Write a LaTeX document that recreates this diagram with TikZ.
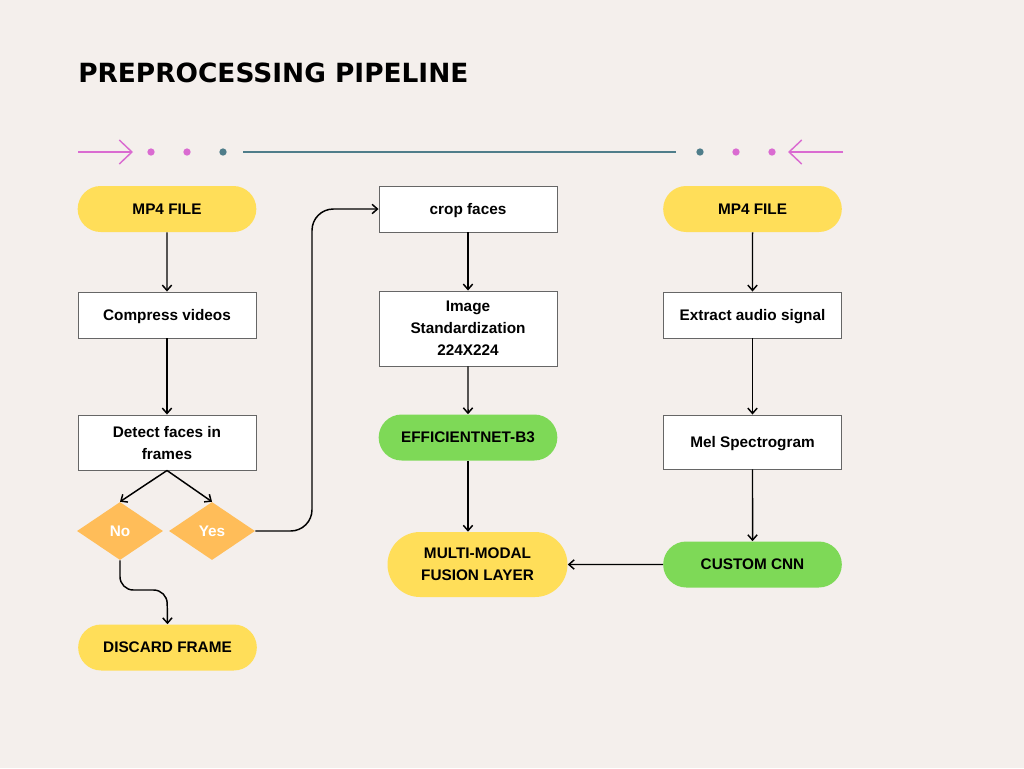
\documentclass[tikz,border=0pt]{standalone}
\usepackage{fontspec}
\setmainfont{Liberation Sans}
\newfontfamily\titlefont{DejaVu Sans}
\usetikzlibrary{arrows.meta,shapes.geometric,shapes.misc}
\definecolor{bgc}{HTML}{F4EFEC}
\definecolor{yel}{HTML}{FFDE59}
\definecolor{grn}{HTML}{7ED957}
\definecolor{org}{HTML}{FFBD59}
\definecolor{pnk}{HTML}{DA6BD1}
\definecolor{tea}{HTML}{4F7D8A}
\definecolor{bgray}{HTML}{666666}
\tikzset{
  txt/.style={font=\fontsize{11.5}{16.5}\selectfont\bfseries, align=center, text=black, text depth=0pt},
  box/.style={txt, rectangle, draw=bgray, line width=0.7pt, fill=white, minimum width=133.5pt, minimum height=34.5pt, inner sep=2pt},
  pill/.style={txt, rounded rectangle, fill=#1, draw=none, minimum width=138pt, minimum height=34.5pt, inner sep=2pt},
  dia/.style={diamond, fill=org, draw=none, minimum width=64.5pt, minimum height=43.5pt, inner sep=0pt, text=white, text depth=0pt, font=\fontsize{11.5}{14}\selectfont\bfseries},
  conn/.style={draw=black, line width=1.1pt, -{Straight Barb[length=4pt,width=7pt,line width=1.1pt]}},
  deco/.style={draw=pnk, line width=1.1pt, -{Straight Barb[length=9.5pt,width=18pt,line width=1.1pt]}},
  dotp/.style={circle, fill=pnk, inner sep=0pt, minimum size=5.5pt},
  dott/.style={circle, fill=tea, inner sep=0pt, minimum size=5.5pt}
}
\begin{document}
\begin{tikzpicture}[x=0.75pt,y=-0.75pt]
\fill[bgc] (0,0) rectangle (1024,768);
\useasboundingbox (0,0) rectangle (1024,768);
% title
\node[anchor=base west, inner sep=0pt, font=\titlefont\fontsize{19.8}{22}\selectfont\bfseries] (title) at (78,82) {PREPROCESSING PIPELINE};
% decoration
\coordinate (la) at (78,152); \coordinate (lb) at (133,152);
\draw[deco] (la) -- (lb);
\node[dotp] (d1) at (151,152) {};
\node[dotp] (d2) at (187,152) {};
\node[dott] (d3) at (223,152) {};
\coordinate (ta) at (243,152); \coordinate (tb) at (676,152);
\draw[tea, line width=1.5pt] (ta) -- (tb);
\node[dott] (d4) at (700,152) {};
\node[dotp] (d5) at (736,152) {};
\node[dotp] (d6) at (772,152) {};
\coordinate (ra) at (843,152); \coordinate (rb) at (788,152);
\draw[deco] (ra) -- (rb);
% left column
\node[pill=yel] (mp4l) at (167,209) {MP4 FILE};
\node[box] (comp) at (167,315) {Compress videos};
\node[box, minimum height=41.25pt] (detect) at (167,442.5) {Detect faces in\\frames};
\node[dia] (no) at (120,531) {No};
\node[dia] (yes) at (212,531) {Yes};
\node[pill=yel] (disc) at (167.5,647.5) {DISCARD FRAME};
% middle column
\node[box] (crop) at (468,209) {crop faces};
\node[box, minimum height=56.25pt] (std) at (468,328.5) {Image\\Standardization\\224X224};
\node[pill=grn] (eff) at (468,437.5) {EFFICIENTNET-B3};
\node[pill=yel, minimum height=48.75pt, minimum width=139pt] (fus) at (477.5,564.5) {MULTI-MODAL\\FUSION LAYER};
% right column
\node[pill=yel] (mp4r) at (752.5,209) {MP4 FILE};
\node[box] (ext) at (752.5,315) {Extract audio signal};
\node[box, minimum height=40.5pt] (mel) at (752.5,442) {Mel Spectrogram};
\node[pill=grn] (cnn) at (752.5,564.5) {CUSTOM CNN};
% connectors
\draw[conn] (mp4l) -- (comp);
\draw[conn] (comp) -- (detect);
\draw[conn] (detect.south) -- (no.north);
\draw[conn] (detect.south) -- (yes.north);
\draw[conn, rounded corners=10pt] (no.south) -- (120,590) -- (167,590) -- (disc.north);
\draw[conn, rounded corners=16pt] (yes.east) -- (312,531) -- (312,209) -- (crop.west);
\draw[conn] (crop) -- (std);
\draw[conn] (std) -- (eff);
\draw[conn] (eff.south) -- (eff.south |- fus.north);
\draw[conn] (mp4r) -- (ext);
\draw[conn] (ext) -- (mel);
\draw[conn] (mel) -- (cnn);
\draw[conn] (cnn) -- (fus);
\end{tikzpicture}
\end{document}
